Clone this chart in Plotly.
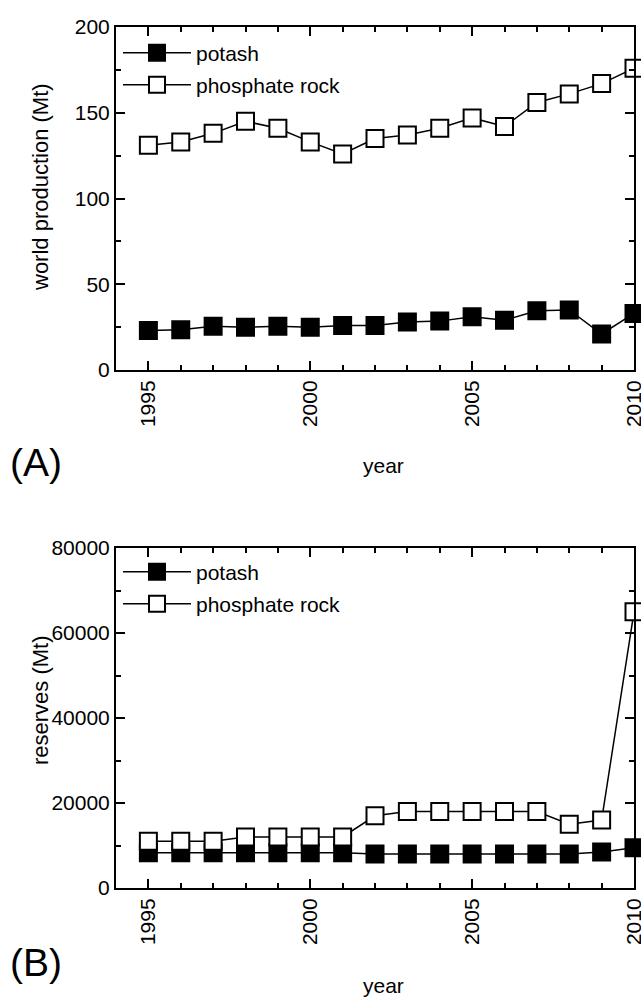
import plotly.graph_objects as go

years = list(range(1995, 2011))
potash_prod = [23, 23.5, 25.5, 25, 25.5, 25, 26, 26, 28, 28.5, 31, 29, 34.5, 35, 21, 33]
phosphate_prod = [131, 133, 138, 145, 141, 133, 126, 135, 137, 141, 147, 142, 156, 161, 167, 176]
potash_res = [8300, 8300, 8300, 8300, 8300, 8300, 8300, 8000, 8000, 8000, 8000, 8000, 8000, 8000, 8500, 9500]
phosphate_res = [11000, 11000, 11000, 12000, 12000, 12000, 12000, 17000, 18000, 18000, 18000, 18000, 18000, 15000, 16000, 65000]

FONT = "Liberation Sans, Arial, sans-serif"
W, H = 641, 998

def px(x):
    return x / W

def py(y):
    return 1 - y / H

fig = go.Figure()

def add(x, y, name, filled, xa, ya, legend):
    fig.add_trace(go.Scatter(
        x=x, y=y, name=name, mode="lines+markers", xaxis=xa, yaxis=ya,
        legend=legend, cliponaxis=False,
        line=dict(color="black", width=1.5),
        marker=dict(symbol="square", size=17,
                    color="black" if filled else "white",
                    line=dict(color="black", width=2)),
    ))

add(years, potash_prod, "potash", True, "x", "y", "legend")
add(years, phosphate_prod, "phosphate rock", False, "x", "y", "legend2")
add(years, potash_res, "potash", True, "x2", "y2", "legend3")
add(years, phosphate_res, "phosphate rock", False, "x2", "y2", "legend4")

xd = [px(116), px(634)]
yd1 = [py(370), py(27)]
yd2 = [py(888), py(548)]

def xaxis(anchor):
    return dict(domain=xd, anchor=anchor, range=[1994, 2010], tick0=1995, dtick=5,
                ticks="inside", ticklen=9, tickwidth=1.5, tickcolor="black",
                showline=True, linewidth=2, linecolor="black", mirror="ticks",
                tickangle=-90, tickfont=dict(family=FONT, size=21, color="black"),
                showgrid=False, zeroline=False, automargin=False, ticklabeloverflow="allow",
                minor=dict(dtick=1, ticks="inside", ticklen=5, tickwidth=1.5, tickcolor="black", showgrid=False))

def yaxis(anchor, dom, rng, dt):
    return dict(domain=dom, anchor=anchor, range=rng, dtick=dt, tickformat="d",
                ticks="inside", ticklen=9, tickwidth=1.5, tickcolor="black",
                showline=True, linewidth=2, linecolor="black", mirror="ticks",
                tickfont=dict(family=FONT, size=21, color="black"),
                showgrid=False, zeroline=False, automargin=False, ticklabeloverflow="allow",
                minor=dict(dtick=dt / 2, ticks="inside", ticklen=5, tickwidth=1.5, tickcolor="black", showgrid=False))

def leg(ycenter):
    return dict(x=px(118), y=py(ycenter), xanchor="left", yanchor="middle",
                bgcolor="rgba(0,0,0,0)", itemwidth=68,
                font=dict(family=FONT, size=21, color="black"))

fig.update_layout(
    width=W, height=H, margin=dict(l=0, r=0, t=0, b=0, autoexpand=False),
    paper_bgcolor="white", plot_bgcolor="white", showlegend=True,
    font=dict(family=FONT, color="black"),
    xaxis=xaxis("y"), yaxis=yaxis("x", yd1, [0, 200], 50),
    xaxis2=xaxis("y2"), yaxis2=yaxis("x2", yd2, [0, 80000], 20000),
    legend=leg(53), legend2=leg(85), legend3=leg(572), legend4=leg(604),
)

ann = [
    dict(text="(A)", x=px(8), y=py(462), xanchor="left", size=39),
    dict(text="year", x=px(383), y=py(465), xanchor="center", size=21),
    dict(text="(B)", x=px(8), y=py(962), xanchor="left", size=39),
    dict(text="year", x=px(383), y=py(985), xanchor="center", size=21),
]
for a in ann:
    fig.add_annotation(text=a["text"], xref="paper", yref="paper", x=a["x"], y=a["y"],
                       xanchor=a["xanchor"], yanchor="middle", showarrow=False,
                       font=dict(family=FONT, size=a["size"], color="black"))
for t, yc in [("world production (Mt)", 187), ("reserves (Mt)", 700)]:
    fig.add_annotation(text=t, xref="paper", yref="paper", x=px(40), y=py(yc),
                       xanchor="center", yanchor="middle", textangle=-90, showarrow=False,
                       font=dict(family=FONT, size=22, color="black"))

fig.write_html("out.html", config={"displayModeBar": False},
               post_script="document.body.style.margin='0px';document.body.style.overflow='hidden';")
